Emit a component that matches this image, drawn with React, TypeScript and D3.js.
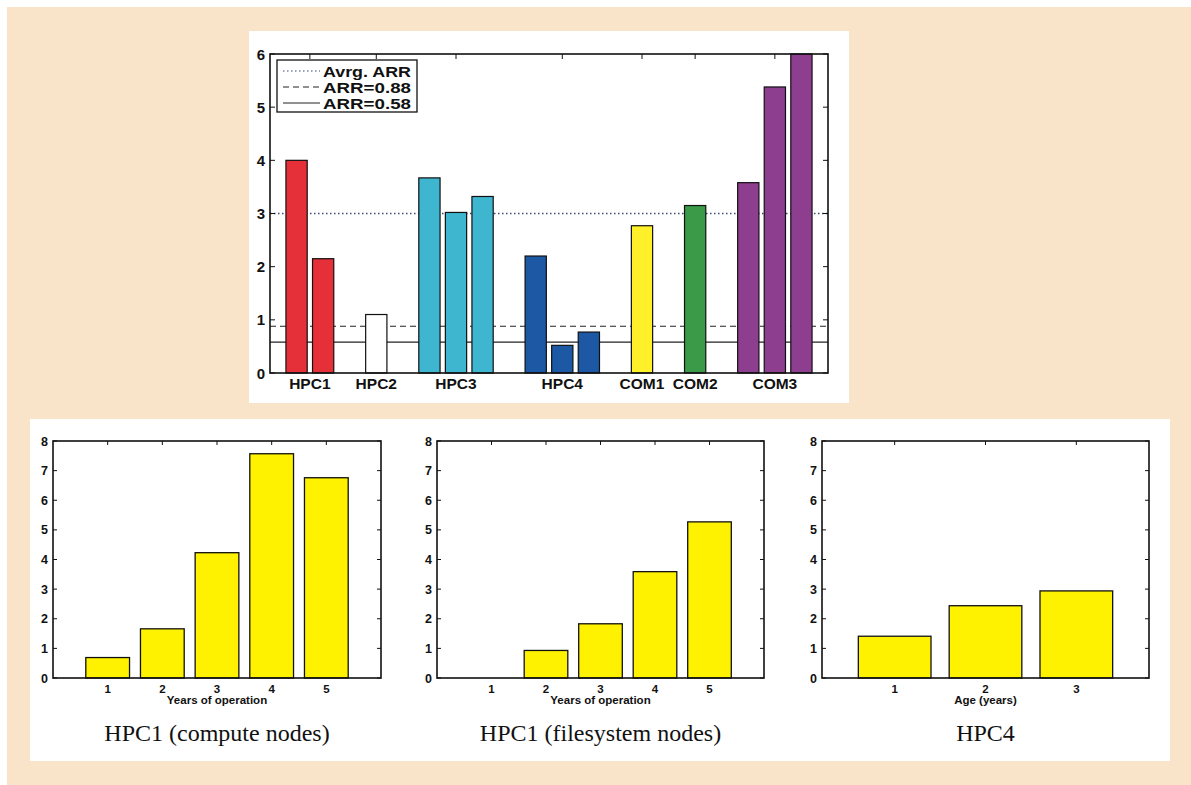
import React from 'react'
import * as d3 from 'd3'

// top chart: ARR per system
const systems = ['HPC1', 'HPC2', 'HPC3', 'HPC4', 'COM1', 'COM2', 'COM3']
const systemLabelPos = [1.5, 4, 7, 11, 14, 16, 19]
const systemColors = ['#e5303a', '#ffffff', '#3fb6cf', '#1d58a4', '#fff02a', '#3a9a48', '#8e3e8f']
const barPositions = [1, 2, 4, 6, 7, 8, 10, 11, 12, 14, 16, 18, 19, 20]
const barSystems = ['HPC1', 'HPC1', 'HPC2', 'HPC3', 'HPC3', 'HPC3', 'HPC4', 'HPC4', 'HPC4', 'COM1', 'COM2', 'COM3', 'COM3', 'COM3']
const barValues = [4.0, 2.15, 1.1, 3.67, 3.02, 3.32, 2.2, 0.52, 0.77, 2.77, 3.15, 3.58, 5.38, 6.0]
const refLabels = ['Avrg. ARR', 'ARR=0.88', 'ARR=0.58']
const refValues = [3.0, 0.88, 0.58]
const refDash = ['1.5,2.5', '6,4', '']
const topYTicks = [0, 1, 2, 3, 4, 5, 6]

// bottom panels
const years = [1, 2, 3, 4, 5]
const computeValues = [0.69, 1.66, 4.23, 7.57, 6.76]
const filesystemValues = [0, 0.93, 1.83, 3.59, 5.27]
const ages = [1, 2, 3]
const hpc4Values = [1.41, 2.44, 2.94]
const bottomYTicks = [0, 1, 2, 3, 4, 5, 6, 7, 8]

const sans = '"Liberation Sans", Arial, sans-serif'
const serif = '"Liberation Serif", "Times New Roman", serif'

interface PanelProps {
  left: number
  right: number
  top: number
  bottom: number
  xs: number[]
  values: number[]
  xDomain: [number, number]
  xLabel: string
  title: string
}

const BarPanel: React.FC<PanelProps> = ({ left, right, top, bottom, xs, values, xDomain, xLabel, title }) => {
  const x = d3.scaleLinear().domain(xDomain).range([left, right])
  const y = d3.scaleLinear().domain([0, 8]).range([bottom, top])
  const bw = x(0.8) - x(0)
  const mid = (left + right) / 2
  return (
    <g>
      {xs.map((d, i) => values[i] > 0 && (
        <rect key={d} x={x(d) - bw / 2} y={y(values[i])} width={bw} height={y(0) - y(values[i])}
          fill="#fff200" stroke="#111" strokeWidth={1.3} />
      ))}
      <rect x={left} y={top} width={right - left} height={bottom - top} fill="none" stroke="#111" strokeWidth={1.6} />
      {bottomYTicks.map(t => (
        <g key={t}>
          <line x1={left} x2={left + 4} y1={y(t)} y2={y(t)} stroke="#111" />
          <line x1={right} x2={right - 4} y1={y(t)} y2={y(t)} stroke="#111" />
          <text x={left - 5} y={y(t) + 4.5} textAnchor="end" fontFamily={sans} fontWeight="bold" fontSize={12.5} fill="#111">{t}</text>
        </g>
      ))}
      {xs.map(d => (
        <g key={d}>
          <line x1={x(d)} x2={x(d)} y1={top} y2={top + 4} stroke="#111" />
          <text x={x(d)} y={bottom + 15} textAnchor="middle" fontFamily={sans} fontWeight="bold" fontSize={11.5} fill="#111">{d}</text>
        </g>
      ))}
      <text x={mid} y={bottom + 26} textAnchor="middle" fontFamily={sans} fontWeight="bold" fontSize={11.5} fill="#111">{xLabel}</text>
      <text x={mid} y={bottom + 63} textAnchor="middle" fontFamily={serif} fontSize={24} fill="#111">{title}</text>
    </g>
  )
}

const App: React.FC = () => {
  // top chart geometry
  const tl = 270, tr = 828, tt = 54, tb = 373
  const x = d3.scaleLinear().domain([0, 21]).range([tl, tr])
  const y = d3.scaleLinear().domain([0, 6]).range([tb, tt])
  const color = d3.scaleOrdinal<string>().domain(systems).range(systemColors)
  const bw = x(0.8) - x(0)

  return (
    <svg width={1191} height={785} style={{ position: 'absolute', left: 0, top: 0 }}>
      <rect x={0} y={0} width={1191} height={785} fill="#ffffff" />
      <rect x={7} y={7} width={1184} height={778} fill="#f9e3c9" />

      {/* top panel */}
      <rect x={249} y={31} width={600} height={372} fill="#ffffff" />
      {refValues.map((v, i) => (
        <line key={i} x1={tl} x2={tr} y1={y(v)} y2={y(v)} stroke={i === 0 ? '#3a4a70' : '#222'}
          strokeWidth={i === 0 ? 1.3 : 1.1} strokeDasharray={refDash[i]} />
      ))}
      {barPositions.map((p, i) => (
        <rect key={p} x={x(p) - bw / 2} y={y(barValues[i])} width={bw} height={y(0) - y(barValues[i])}
          fill={color(barSystems[i])} stroke="#111" strokeWidth={1.2} />
      ))}
      <rect x={tl} y={tt} width={tr - tl} height={tb - tt} fill="none" stroke="#111" strokeWidth={1.6} />
      {topYTicks.map(t => (
        <g key={t}>
          <line x1={tl} x2={tl + 5} y1={y(t)} y2={y(t)} stroke="#111" />
          <line x1={tr} x2={tr - 5} y1={y(t)} y2={y(t)} stroke="#111" />
          <text x={tl - 5} y={y(t) + 5.5} textAnchor="end" fontFamily={sans} fontWeight="bold" fontSize={15} fill="#111">{t}</text>
        </g>
      ))}
      {systems.map((s, i) => (
        <g key={s}>
          <line x1={x(systemLabelPos[i])} x2={x(systemLabelPos[i])} y1={tt} y2={tt + 5} stroke="#111" />
          <text x={x(systemLabelPos[i])} y={tb + 16} textAnchor="middle" fontFamily={sans} fontWeight="bold" fontSize={15.5} fill="#111">{s}</text>
        </g>
      ))}

      {/* legend */}
      <rect x={277} y={60} width={140} height={52} fill="#ffffff" stroke="#111" strokeWidth={1.3} />
      {refLabels.map((l, i) => (
        <g key={l}>
          <line x1={283} x2={320} y1={71 + i * 16} y2={71 + i * 16} stroke={i === 0 ? '#3a4a70' : '#222'}
            strokeWidth={1.2} strokeDasharray={refDash[i]} />
          <text x={323} y={76.5 + i * 16} fontFamily={sans} fontWeight="bold" fontSize={15.5}
            textLength={88} lengthAdjust="spacingAndGlyphs" fill="#111">{l}</text>
        </g>
      ))}

      {/* bottom panels */}
      <rect x={30} y={419} width={1140} height={342} fill="#ffffff" />
      <BarPanel left={53} right={381} top={441} bottom={678} xs={years} values={computeValues}
        xDomain={[0, 6]} xLabel="Years of operation" title="HPC1 (compute nodes)" />
      <BarPanel left={437} right={764} top={441} bottom={678} xs={years} values={filesystemValues}
        xDomain={[0, 6]} xLabel="Years of operation" title="HPC1 (filesystem nodes)" />
      <BarPanel left={822} right={1149} top={441} bottom={678} xs={ages} values={hpc4Values}
        xDomain={[0.2, 3.8]} xLabel="Age (years)" title="HPC4" />
    </svg>
  )
}

export default App
